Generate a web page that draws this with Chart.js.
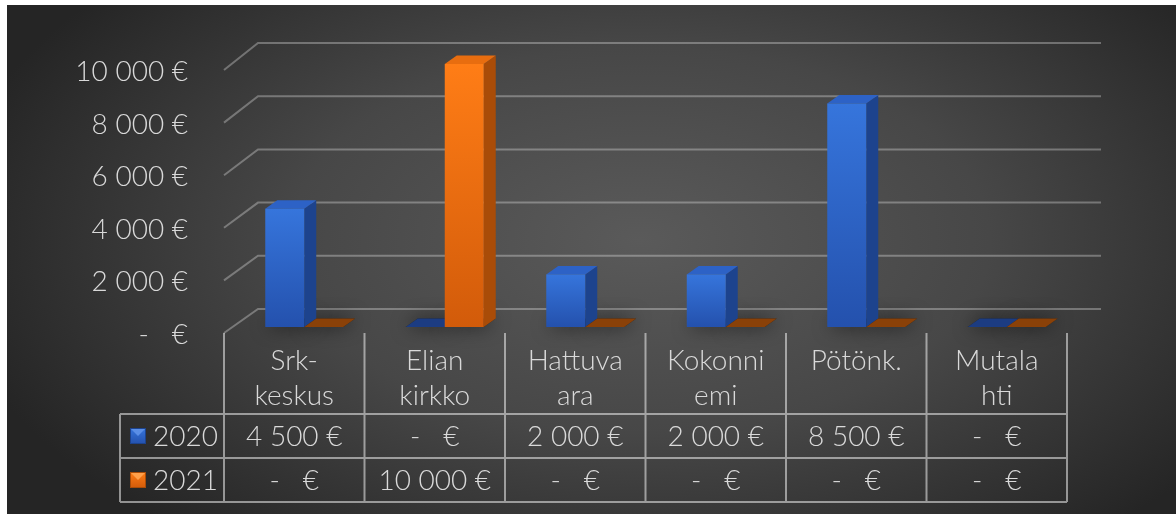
<!DOCTYPE html>
<html>
<head>
<meta charset="utf-8">
<script src="https://cdn.jsdelivr.net/npm/chart.js@4"></script>
<style>
  html, body { margin: 0; padding: 0; background: #fff; }
  #wrap { width: 1176px; height: 514px; position: relative; }
</style>
</head>
<body>
<div id="wrap"><canvas id="chart"></canvas></div>
<script>
const categories = [['Srk-', 'keskus'], ['Elian', 'kirkko'], ['Hattuva', 'ara'], ['Kokonni', 'emi'], ['Pötönk.'], ['Mutala', 'hti']];
const seriesNames = ['2020', '2021'];
const values2020 = [4500, 0, 2000, 2000, 8500, 0];
const values2021 = [0, 10000, 0, 0, 0, 0];
const yTicks = [0, 2000, 4000, 6000, 8000, 10000];

const palette = [
  {front: ['#3675dc', '#2451ad'], side: '#1d438d', top: '#2d62c6', flat: '#1c3c82', key: '#5a8ee6'},
  {front: ['#ff7d16', '#d25b0a'], side: '#a94c08', top: '#e86d0f', flat: '#8a4108', key: '#ffa04a'}
];

const FAMILY = 'Lato, "Century Gothic", sans-serif';
const TEXT = '#d9d9d9';
const BAR_SHIFT = {x: 10, y: -6};      // front floor edge -> bar front face
const BAR_DEPTH = {x: 12, y: -8.5};    // depth of one column
const WALL = {x: 34, y: -24, yTop: -27}; // front floor edge -> back wall
const TABLE = {left: 120, headerBottom: 414, rowH: 44};

const fmtEur = v => v === 0 ? '-   €' : String(v).replace(/\B(?=(\d{3})+(?!\d))/g, ' ') + ' €';

const backdrop = {
  id: 'backdrop',
  beforeDraw(chart) {
    const {ctx, width, height} = chart;
    ctx.save();
    ctx.beginPath();
    ctx.rect(7, 5, width - 7, height - 5);
    ctx.translate(640, 240);
    ctx.scale(1, 0.55);
    const g = ctx.createRadialGradient(0, 0, 0, 0, 0, 700);
    g.addColorStop(0, '#5a5a5a');
    g.addColorStop(0.5, '#474747');
    g.addColorStop(1, '#252525');
    ctx.fillStyle = g;
    ctx.fill();
    ctx.restore();
  }
};

const wallGrid = {
  id: 'wallGrid',
  beforeDatasetsDraw(chart) {
    const {ctx, chartArea: area} = chart;
    const y = chart.scales.y;
    const span = area.bottom - area.top;
    ctx.save();
    ctx.strokeStyle = 'rgba(255,255,255,0.3)';
    ctx.lineWidth = 2;
    y.ticks.forEach(t => {
      const p = y.getPixelForValue(t.value);
      const f = (area.bottom - p) / span;
      const dy = WALL.y + (WALL.yTop - WALL.y) * f;
      ctx.beginPath();
      ctx.moveTo(area.left, p);
      ctx.lineTo(area.left + WALL.x, p + dy);
      ctx.lineTo(area.right + WALL.x, p + dy);
      ctx.stroke();
    });
    ctx.restore();
  },
  // the columns are drawn in 3D below, skip the flat default bars
  beforeDatasetDraw() {
    return false;
  }
};

function poly(ctx, pts, fill) {
  ctx.beginPath();
  ctx.moveTo(pts[0][0], pts[0][1]);
  pts.slice(1).forEach(p => ctx.lineTo(p[0], p[1]));
  ctx.closePath();
  ctx.fillStyle = fill;
  ctx.fill();
}

function columnBox(el) {
  const x0 = el.x - el.width / 2 + BAR_SHIFT.x;
  return {x0, x1: x0 + el.width, top: el.y + BAR_SHIFT.y, bottom: el.base + BAR_SHIFT.y};
}

const columns3d = {
  id: 'columns3d',
  afterDatasetsDraw(chart) {
    const {ctx} = chart;
    const dx = BAR_DEPTH.x, dy = BAR_DEPTH.y;
    const metas = chart.data.datasets.map((d, i) => chart.getDatasetMeta(i));
    ctx.save();
    // soft shadows on the floor
    ctx.shadowColor = 'rgba(0,0,0,0.7)';
    ctx.shadowBlur = 18;
    metas.forEach(meta => meta.data.forEach(el => {
      const b = columnBox(el);
      poly(ctx, [[b.x0, b.bottom], [b.x1, b.bottom], [b.x1 + dx, b.bottom + dy], [b.x0 + dx, b.bottom + dy]], 'rgba(30,30,30,0.9)');
    }));
    ctx.shadowColor = 'transparent';
    ctx.shadowBlur = 0;
    categories.forEach((c, i) => {
      metas.forEach((meta, d) => {
        const el = meta.data[i];
        const col = palette[d];
        const b = columnBox(el);
        if (b.bottom - b.top < 0.5) {
          poly(ctx, [[b.x0, b.bottom], [b.x1, b.bottom], [b.x1 + dx, b.bottom + dy], [b.x0 + dx, b.bottom + dy]], col.flat);
          return;
        }
        const g = ctx.createLinearGradient(0, b.top, 0, b.bottom);
        g.addColorStop(0, col.front[0]);
        g.addColorStop(1, col.front[1]);
        poly(ctx, [[b.x1, b.top], [b.x1 + dx, b.top + dy], [b.x1 + dx, b.bottom + dy], [b.x1, b.bottom]], col.side);
        poly(ctx, [[b.x0, b.top], [b.x1, b.top], [b.x1 + dx, b.top + dy], [b.x0 + dx, b.top + dy]], col.top);
        ctx.fillStyle = g;
        ctx.fillRect(b.x0, b.top, b.x1 - b.x0, b.bottom - b.top);
      });
    });
    ctx.restore();
  }
};

function drawKey(ctx, x, y, s, col) {
  const g = ctx.createLinearGradient(0, y, 0, y + s);
  g.addColorStop(0, col.front[0]);
  g.addColorStop(1, col.front[1]);
  ctx.fillStyle = g;
  ctx.fillRect(x, y, s, s);
  poly(ctx, [[x, y], [x + s, y], [x + s / 2, y + s / 2]], col.key);
  ctx.strokeStyle = col.side;
  ctx.lineWidth = 1;
  ctx.strokeRect(x + 0.5, y + 0.5, s - 1, s - 1);
}

const dataTable = {
  id: 'dataTable',
  afterDraw(chart) {
    const {ctx, chartArea: area} = chart;
    const x = chart.scales.x;
    const n = categories.length;
    const step = (area.right - area.left) / n;
    const rows = [values2020, values2021];
    const bottom = TABLE.headerBottom + TABLE.rowH * rows.length;
    ctx.save();
    ctx.strokeStyle = 'rgba(255,255,255,0.5)';
    ctx.lineWidth = 2;
    ctx.beginPath();
    for (let i = 0; i <= n; i++) {
      const px = area.left + i * step;
      ctx.moveTo(px, area.bottom);
      ctx.lineTo(px, bottom);
    }
    for (let r = 0; r <= rows.length; r++) {
      const py = TABLE.headerBottom + r * TABLE.rowH;
      ctx.moveTo(TABLE.left, py);
      ctx.lineTo(area.right, py);
    }
    ctx.moveTo(TABLE.left, TABLE.headerBottom);
    ctx.lineTo(TABLE.left, bottom);
    ctx.stroke();

    ctx.font = '300 28px ' + FAMILY;
    ctx.fillStyle = TEXT;
    ctx.textBaseline = 'middle';
    rows.forEach((vals, r) => {
      const cy = TABLE.headerBottom + TABLE.rowH * (r + 0.5);
      ctx.textAlign = 'center';
      ctx.fillStyle = TEXT;
      vals.forEach((v, i) => ctx.fillText(fmtEur(v), x.getPixelForValue(i), cy + 1));
      drawKey(ctx, TABLE.left + 10, cy - 8, 16, palette[r]);
      ctx.textAlign = 'left';
      ctx.fillStyle = TEXT;
      ctx.fillText(seriesNames[r], TABLE.left + 33, cy + 1);
    });
    ctx.restore();
  }
};

new Chart(document.getElementById('chart'), {
  type: 'bar',
  data: {
    labels: categories,
    datasets: [
      {label: seriesNames[0], data: values2020, backgroundColor: palette[0].front[0]},
      {label: seriesNames[1], data: values2021, backgroundColor: palette[1].front[0]}
    ]
  },
  options: {
    responsive: true,
    maintainAspectRatio: false,
    animation: false,
    events: [],
    layout: {padding: {top: 70, right: 109, bottom: 0, left: 0}},
    datasets: {bar: {categoryPercentage: 0.555, barPercentage: 1}},
    plugins: {legend: {display: false}, tooltip: {enabled: false}},
    scales: {
      x: {
        grid: {display: false, drawTicks: false},
        border: {display: false},
        ticks: {
          color: TEXT,
          autoSkip: false,
          maxRotation: 0,
          padding: 10,
          font: {family: FAMILY, size: 28, weight: 300, lineHeight: 1.25}
        },
        afterFit(scale) { scale.height = 181; }
      },
      y: {
        min: 0,
        max: 10000,
        afterBuildTicks(scale) { scale.ticks = yTicks.map(v => ({value: v})); },
        grid: {display: false, drawTicks: false},
        border: {display: false},
        ticks: {
          color: TEXT,
          padding: 36,
          labelOffset: 2,
          font: {family: FAMILY, size: 28, weight: 300},
          callback: v => fmtEur(v)
        },
        afterFit(scale) { scale.width = 224; }
      }
    }
  },
  plugins: [backdrop, wallGrid, columns3d, dataTable]
});
</script>
</body>
</html>
